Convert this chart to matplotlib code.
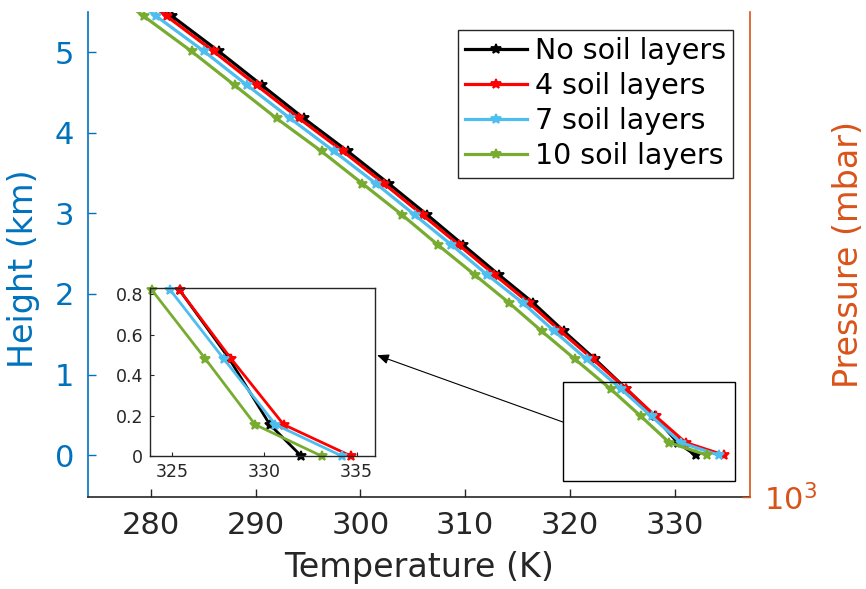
import matplotlib
matplotlib.use("Agg")
import matplotlib.pyplot as plt
from matplotlib.patches import Rectangle
from matplotlib.ticker import FixedLocator, NullLocator, FixedFormatter

plt.rcParams['font.family'] = ['DejaVu Sans']

# ---------------- data ----------------
heights = [0.0, 0.155, 0.48, 0.82, 1.19, 1.54, 1.89, 2.24, 2.61, 2.98, 3.37, 3.77, 4.18, 4.59, 5.01, 5.45, 5.90]
t_none = [332.0, 330.3, 328.1, 325.4, 322.4, 319.4, 316.5, 313.2, 309.8, 306.4, 302.7, 298.8, 294.6, 290.6, 286.5, 282.0, 277.4]
t_4 = [334.7, 331.05, 328.2, 325.4, 322.2, 319.1, 316.1, 312.8, 309.4, 305.95, 302.25, 298.35, 294.15, 290.1, 286.0, 281.5, 276.9]
t_7 = [334.2, 330.6, 327.8, 324.9, 321.6, 318.5, 315.5, 312.1, 308.7, 305.2, 301.5, 297.5, 293.3, 289.2, 285.1, 280.5, 275.9]
t_10 = [333.1, 329.5, 326.8, 323.9, 320.5, 317.3, 314.2, 310.9, 307.4, 304.0, 300.2, 296.3, 292.0, 288.0, 283.9, 279.3, 274.7]

labels = ['No soil layers', '4 soil layers', '7 soil layers', '10 soil layers']
colors = ['#000000', '#FF0000', '#4DBEEE', '#77AC30']
series = [t_none, t_4, t_7, t_10]

x_ticks = [280, 290, 300, 310, 320, 330]
y_ticks = [0, 1, 2, 3, 4, 5]
inset_x_ticks = [325, 330, 335]
inset_y_ticks = [0, 0.2, 0.4, 0.6, 0.8]
inset_y_labels = ['0', '0.2', '0.4', '0.6', '0.8']

BLUE = '#0072BD'
ORANGE = '#D95319'
DARK = '#262626'

W, H = 866, 589
fig = plt.figure(figsize=(W / 100, H / 100), dpi=100)

L, R, B, T = 88, 750, 497, 12
ax = fig.add_axes([L / W, (H - B) / H, (R - L) / W, (B - T) / H])

for ts, c, lab in zip(series, colors, labels):
    ax.plot(ts, heights, color=c, lw=2.3, marker='*', ms=7.5, mew=1.3, label=lab)

ax.set_xlim(274, 337.2)
ax.set_ylim(-0.52, 5.5)
ax.set_xticks(x_ticks)
ax.set_yticks(y_ticks)
ax.tick_params(axis='x', direction='in', length=6, width=1, colors=DARK, labelsize=22, pad=10)
ax.tick_params(axis='y', direction='in', length=6, width=1, colors=BLUE, labelsize=22, pad=10)
ax.spines['top'].set_visible(False)
ax.spines['right'].set_visible(False)
ax.spines['bottom'].set_color(DARK)
ax.spines['left'].set_color(BLUE)
for s in ['bottom', 'left']:
    ax.spines[s].set_linewidth(1.2)

ax.set_xlabel('Temperature (K)', fontsize=24, color=DARK, labelpad=8)
ax.set_ylabel('Height (km)', fontsize=24, color=BLUE)
ax.yaxis.set_label_coords(-0.072, 0.47)

# zoom rectangle and arrow
ax.add_patch(Rectangle((319.35, -0.323), 16.45, 1.229, fill=False, edgecolor='k', lw=1.0, zorder=5))
ax.annotate('', xy=(301.6, 1.24), xytext=(319.35, 0.41),
            arrowprops=dict(arrowstyle='-|>,head_length=0.7,head_width=0.3', color='k', lw=0.8,
                            shrinkA=0, shrinkB=0), zorder=6)

leg = ax.legend(loc='upper right', bbox_to_anchor=(0.974, 0.963), fontsize=20.5,
                frameon=True, fancybox=False, framealpha=1, edgecolor=DARK,
                handlelength=2.2, handletextpad=0.25, labelspacing=0.25, borderpad=0.25,
                borderaxespad=0)
leg.get_frame().set_linewidth(1.0)

# right axis (pressure)
ax2 = ax.twinx()
ax2.set_yscale('log')
ax2.set_ylim(1000, 500)
ax2.yaxis.set_major_locator(FixedLocator([1000]))
ax2.yaxis.set_minor_locator(NullLocator())
ax2.tick_params(axis='y', direction='in', length=6, width=1, colors=ORANGE, labelsize=22, pad=10)
for s in ['top', 'left', 'bottom']:
    ax2.spines[s].set_visible(False)
ax2.spines['right'].set_color(ORANGE)
ax2.spines['right'].set_linewidth(1.2)
ax2.set_ylabel('Pressure (mbar)', fontsize=24, color=ORANGE)
ax2.yaxis.set_label_coords(1.124, 0.5)

# inset
il, ir, ib, it = 150, 375, 456, 288
axi = fig.add_axes([il / W, (H - ib) / H, (ir - il) / W, (ib - it) / H])
for ts, c in zip(series, colors):
    axi.plot(ts[:4], heights[:4], color=c, lw=2.0, marker='*', ms=7.5, mew=1.3, clip_on=False)
axi.set_xlim(323.8, 336)
axi.set_ylim(0, 0.83)
axi.xaxis.set_major_locator(FixedLocator(inset_x_ticks))
axi.yaxis.set_major_locator(FixedLocator(inset_y_ticks))
axi.yaxis.set_major_formatter(FixedFormatter(inset_y_labels))
axi.tick_params(direction='in', length=3, width=0.8, colors=DARK, labelsize=12.5, pad=5)
for s in axi.spines.values():
    s.set_color(DARK)
    s.set_linewidth(1.0)

fig.savefig('out.png', dpi=100)
